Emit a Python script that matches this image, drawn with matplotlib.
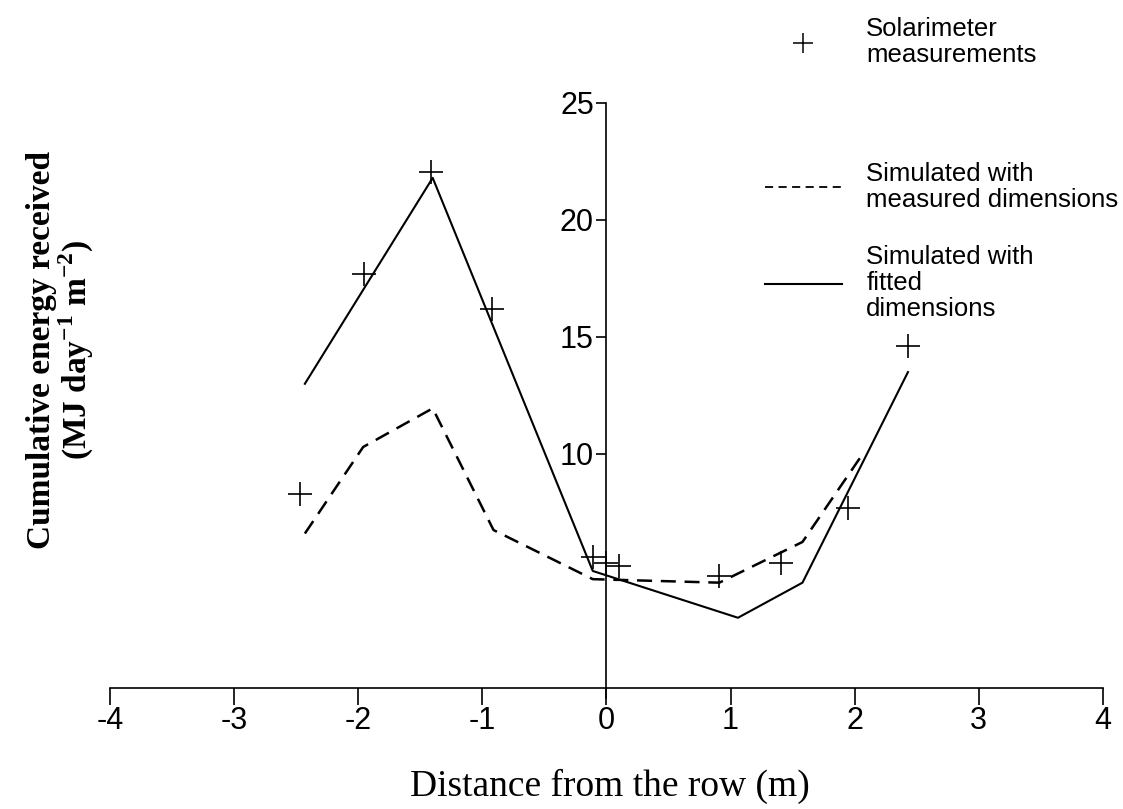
import numpy as np
import matplotlib
matplotlib.use("Agg")
import matplotlib.pyplot as plt
from matplotlib.lines import Line2D

# Data
meas_x = [-2.47, -1.95, -1.41, -0.92, -0.11, 0.0, 0.10, 0.91, 1.41, 1.95, 2.43]
meas_y = [8.3, 17.7, 22.05, 16.2, 5.6, 5.35, 5.2, 4.8, 5.35, 7.7, 14.6]

sim_meas_x = [-2.43, -1.96, -1.40, -0.91, -0.11, 0.91, 1.58, 2.06]
sim_meas_y = [6.6, 10.3, 11.95, 6.75, 4.65, 4.5, 6.24, 9.96]

sim_fit_x = [-2.43, -1.40, -0.11, 1.06, 1.58, 2.43]
sim_fit_y = [13.0, 21.8, 5.0, 3.0, 4.5, 13.5]

xticks = [-4, -3, -2, -1, 0, 1, 2, 3, 4]
yticks = [10, 15, 20, 25]

plt.rcParams["font.family"] = ["Liberation Sans", "DejaVu Sans"]
plt.rcParams["mathtext.fontset"] = "custom"
plt.rcParams["mathtext.rm"] = "Liberation Serif"
plt.rcParams["mathtext.bf"] = "Liberation Serif:bold"

fig = plt.figure(figsize=(11.23, 8.09), dpi=100)
ax = fig.add_axes([0.098, 0.1366, 0.884, 0.7361])

ax.plot(sim_fit_x, sim_fit_y, color="black", lw=1.5)
ax.plot(sim_meas_x, sim_meas_y, color="black", lw=1.8, dashes=(6, 3.5))
ax.plot(meas_x, meas_y, ls="none", marker="+", ms=17, mew=1.2, color="black")

ax.set_xlim(-4, 4)
ax.set_ylim(-0.45, 25)
ax.spines["left"].set_position(("data", 0))
ax.spines["bottom"].set_position(("data", 0))
ax.spines["top"].set_visible(False)
ax.spines["right"].set_visible(False)
ax.spines["left"].set_linewidth(1.2)
ax.spines["bottom"].set_linewidth(1.2)

ax.set_xticks(xticks)
ax.set_xticklabels([str(v) for v in xticks])
ax.set_yticks(yticks)
ax.set_yticklabels([str(v) for v in yticks])
ax.tick_params(axis="x", direction="out", length=12, width=1.2, pad=1, labelsize=22)
ax.tick_params(axis="y", direction="out", length=7, width=1.2, pad=2, labelsize=22)

fig.text(0.543, 0.006, "Distance from the row (m)", family="Liberation Serif",
         fontsize=27, ha="center", va="bottom")
fig.text(0.054, 0.567, "Cumulative energy received\n(MJ day$^{\\mathbf{-1}}$ m$^{\\mathbf{-2}}$)",
         family="Liberation Serif", fontweight="bold", fontsize=24, rotation=90,
         ha="center", va="center", multialignment="center", linespacing=1.0)

# Legend, three separate blocks as in the original
entries = [
    (Line2D([], [], ls="none", marker="+", ms=15, mew=1.1, color="black"),
     "Solarimeter\nmeasurements", 0.948),
    (Line2D([], [], color="black", lw=1.3, dashes=(4.5, 3)),
     "Simulated with\nmeasured dimensions", 0.769),
    (Line2D([], [], color="black", lw=1.5),
     "Simulated with\nfitted\ndimensions", 0.650),
]
legs = []
for handle, label, ypos in entries:
    leg = fig.legend([handle], [label], loc="center left",
                     bbox_to_anchor=(0.681, ypos), frameon=False,
                     borderpad=0, borderaxespad=0, handlelength=3.0,
                     handletextpad=0.95, prop={"family": "Liberation Sans", "size": 18.5})
    for t in leg.get_texts():
        t.set_linespacing(1.12)
    legs.append(leg)

fig.savefig("out.png", dpi=100)
